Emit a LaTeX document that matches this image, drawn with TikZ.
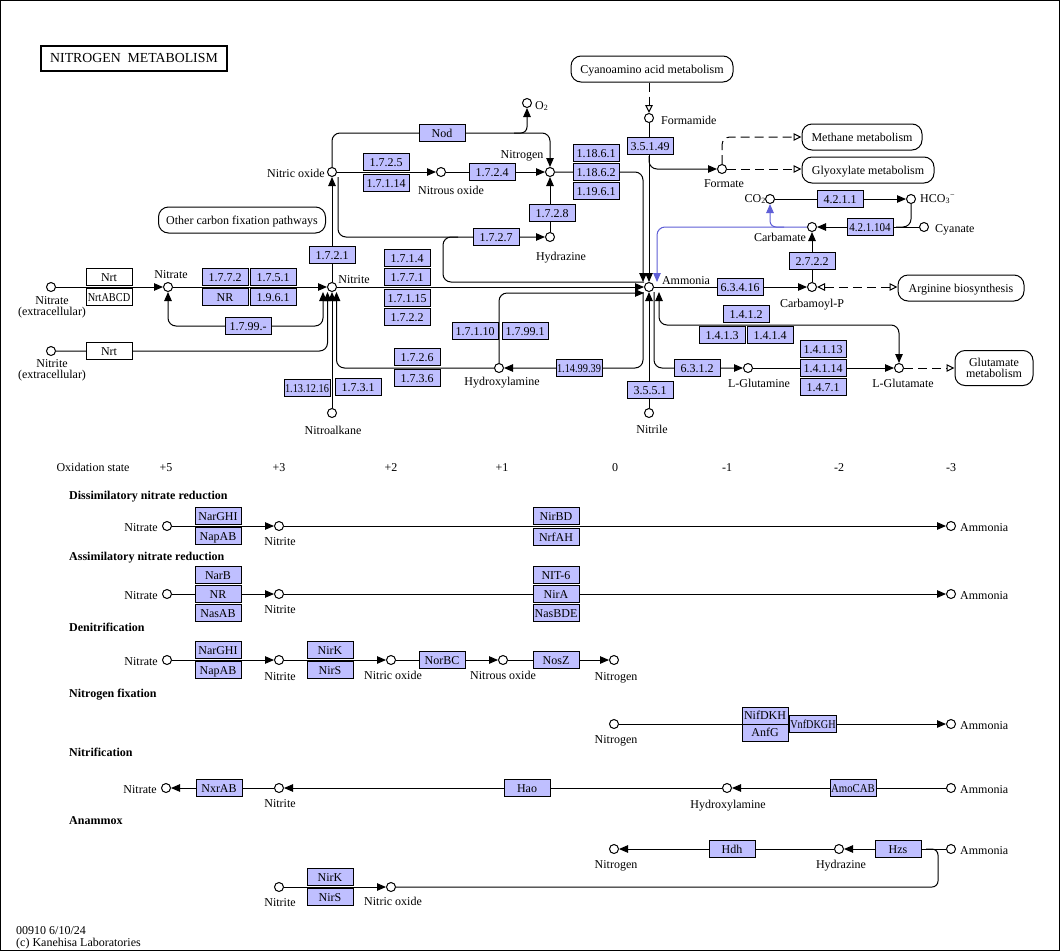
\documentclass[tikz,border=0pt]{standalone}
\usepackage{fontspec}
\setmainfont{Liberation Serif}
\usepackage{graphicx}
\usetikzlibrary{arrows.meta,backgrounds}
\definecolor{enzblue}{RGB}{191,191,255}
\definecolor{bline}{RGB}{95,95,215}
\newcommand{\kfs}{\fontsize{12}{13}\selectfont}
\newcommand{\kfsb}{\fontsize{12}{13}\selectfont\bfseries}
\newcommand{\kfl}{\fontsize{12}{11}\selectfont}
\newcommand{\sqz}[2]{\scalebox{#1}[1]{#2}}
\tikzset{
  cpd/.style={circle, draw, fill=white, minimum size=9pt, inner sep=0pt, line width=1pt},
  enz/.style={draw, fill=enzblue, minimum width=46pt, minimum height=17pt, inner sep=0pt, line width=1pt, font=\kfs, text height=8pt, text depth=0pt},
  gene/.style={enz, fill=white},
  mapbox/.style={draw, fill=white, rounded corners=10pt, minimum height=26pt, inner sep=0pt, line width=1pt, font=\kfs},
  mapboxa/.style={mapbox, text height=8pt, text depth=0pt},
  lbl/.style={inner sep=0pt, font=\kfs, text height=8pt, text depth=0pt},
  lbltwo/.style={inner sep=0pt, font=\kfl, align=center},
  head/.style={inner sep=0pt, font=\kfsb, text height=8pt, text depth=0pt, anchor=west},
  rx/.style={line width=1pt},
  arr/.style={rx, -{Triangle[length=9pt,width=7.5pt]}},
  arrb/.style={rx, {Triangle[length=9pt,width=7.5pt]}-{Triangle[length=9pt,width=7.5pt]}},
  barr/.style={rx, draw=bline, -{Triangle[length=9pt,width=7.5pt]}},
  darr/.style={rx, dash pattern=on 9pt off 5pt, -{Triangle[open,length=8pt,width=7.5pt,fill=white]}},
  darrb/.style={rx, dash pattern=on 9pt off 5pt, {Triangle[open,length=8pt,width=7.5pt,fill=white]}-{Triangle[open,length=8pt,width=7.5pt,fill=white]}},
}
\begin{document}
\begin{tikzpicture}[x=1pt,y=-1pt]
\useasboundingbox (0,0) rectangle (1060,951);

% ---------- title ----------
\node[draw, line width=2pt, minimum width=186pt, minimum height=25pt, inner sep=0pt, font=\fontsize{13.8}{15}\selectfont] (title) at (134,58) {NITROGEN\ \ METABOLISM};

% ---------- compounds (top) ----------
\node[cpd] (nitrateext) at (51,287) {};
\node[cpd] (nitriteext) at (51,351) {};
\node[cpd] (nitrate) at (168,287) {};
\node[cpd] (nitrite) at (332,287) {};
\node[cpd] (no) at (332,172) {};
\node[cpd] (o2) at (527,103) {};
\node[cpd] (n2o) at (441,172) {};
\node[cpd] (n2) at (550,172) {};
\node[cpd] (hydrazine) at (550,237) {};
\node[cpd] (formamide) at (649,118) {};
\node[cpd] (formate) at (722,169) {};
\node[cpd] (co2) at (770,199) {};
\node[cpd] (hco3) at (911,199) {};
\node[cpd] (carbamate) at (812,227) {};
\node[cpd] (cyanate) at (924,227) {};
\node[cpd] (nh3) at (649,287) {};
\node[cpd] (carbp) at (812,287) {};
\node[cpd] (nh2oh) at (499,368) {};
\node[cpd] (nitroalkane) at (332,413) {};
\node[cpd] (nitrile) at (649,413) {};
\node[cpd] (gln) at (748,368) {};
\node[cpd] (glu) at (899,368) {};

% ---------- compound labels (top) ----------
\node[lbltwo] (lnitrateext) at (52,307) {Nitrate\\(extracellular)};
\node[lbltwo] (lnitriteext) at (52,370) {Nitrite\\(extracellular)};
\node[lbl] (lnitrate) at (171,274) {Nitrate};
\node[lbl] (lnitrite) at (354,279) {Nitrite};
\node[lbl, anchor=east] (lno) at (325,173) {Nitric oxide};
\node[lbl, anchor=west] (lo2) at (535,105) {O\textsubscript{2}};
\node[lbl] (ln2o) at (451,190) {Nitrous oxide};
\node[lbl] (ln2) at (522,154) {Nitrogen};
\node[lbl] (lhydrazine) at (561,256) {Hydrazine};
\node[lbl, anchor=west] (lformamide) at (661,120) {Formamide};
\node[lbl] (lformate) at (724,183) {Formate};
\node[lbl, anchor=east] (lco2) at (766,198) {CO\textsubscript{2}};
\node[lbl, anchor=west] (lhco3) at (920,198) {HCO\textsubscript{3}\textsuperscript{−}};
\node[lbl] (lcarbamate) at (780,237) {Carbamate};
\node[lbl, anchor=west] (lcyanate) at (935,228) {Cyanate};
\node[lbl] (lnh3) at (686,280) {Ammonia};
\node[lbl] (lcarbp) at (812,303) {Carbamoyl-P};
\node[lbl] (lnh2oh) at (502,381) {Hydroxylamine};
\node[lbl] (lnitroalkane) at (333,430) {Nitroalkane};
\node[lbl] (lnitrile) at (652,429) {Nitrile};
\node[lbl] (lgln) at (759,383) {L-Glutamine};
\node[lbl] (lglu) at (903,383) {L-Glutamate};

% ---------- map boxes ----------
\node[mapboxa, minimum width=162pt] (cyano) at (652,69) {Cyanoamino acid metabolism};
\node[mapboxa, minimum width=167pt] (othercf) at (242,220) {Other carbon fixation pathways};
\node[mapboxa, minimum width=120pt] (methane) at (862,137) {Methane metabolism};
\node[mapboxa, minimum width=132pt] (glyox) at (868,170) {Glyoxylate metabolism};
\node[mapboxa, minimum width=126pt] (arginine) at (961,288) {Arginine biosynthesis};
\node[mapbox, minimum width=78pt, minimum height=35pt, align=center, font=\kfl] (glutmet) at (994,368) {Glutamate\\metabolism};

% ---------- enzymes (top) ----------
\node[gene] (nrt1) at (109,277) {Nrt};
\node[gene] (nrtabcd) at (109,297) {\sqz{0.86}{NrtABCD}};
\node[gene] (nrt2) at (109,351) {Nrt};
\node[enz] (e1772) at (225,277) {1.7.7.2};
\node[enz] (e1751) at (273,277) {1.7.5.1};
\node[enz] (enr) at (225,297) {NR};
\node[enz] (e1961) at (273,297) {1.9.6.1};
\node[enz] (e1799) at (248,326) {1.7.99.-};
\node[enz] (e131216) at (307,388) {\sqz{0.86}{1.13.12.16}};
\node[enz] (e1731) at (358,387) {1.7.3.1};
\node[enz] (e1721) at (332,255) {1.7.2.1};
\node[enz] (e1714) at (407,258) {1.7.1.4};
\node[enz] (e1771) at (407,277) {1.7.7.1};
\node[enz] (e17115) at (407,298) {1.7.1.15};
\node[enz] (e1722) at (407,317) {1.7.2.2};
\node[enz] (e17110) at (475,331) {1.7.1.10};
\node[enz] (e17991) at (525,331) {1.7.99.1};
\node[enz] (e1726) at (417,357) {1.7.2.6};
\node[enz] (e1736) at (417,378) {1.7.3.6};
\node[enz] (e1149939) at (579,368) {\sqz{0.86}{1.14.99.39}};
\node[enz] (e3551) at (650,390) {3.5.5.1};
\node[enz] (enod) at (442,133) {Nod};
\node[enz] (e1725) at (386,162) {1.7.2.5};
\node[enz] (e17114) at (386,183) {1.7.1.14};
\node[enz] (e1724) at (492,172) {1.7.2.4};
\node[enz] (e11861) at (596,153) {1.18.6.1};
\node[enz] (e11862) at (596,172) {1.18.6.2};
\node[enz] (e11961) at (596,191) {1.19.6.1};
\node[enz] (e1728) at (552,213) {1.7.2.8};
\node[enz] (e1727) at (496,237) {1.7.2.7};
\node[enz] (e35149) at (650,146) {3.5.1.49};
\node[enz] (e4211) at (840,199) {4.2.1.1};
\node[enz] (e421104) at (870,227) {\sqz{0.92}{4.2.1.104}};
\node[enz] (e2722) at (812,261) {2.7.2.2};
\node[enz] (e63416) at (740,287) {6.3.4.16};
\node[enz] (e1412) at (746,314) {1.4.1.2};
\node[enz] (e1413) at (722,335) {1.4.1.3};
\node[enz] (e1414) at (770,335) {1.4.1.4};
\node[enz] (e14113) at (823,349) {1.4.1.13};
\node[enz] (e14114) at (823,368) {1.4.1.14};
\node[enz] (e1471) at (823,387) {1.4.7.1};
\node[enz] (e6312) at (697,368) {6.3.1.2};

% ---------- oxidation states ----------
\node[lbl] (ox) at (93,467) {Oxidation state};
\node[lbl] (oxa) at (166,467) {+5};
\node[lbl] (oxb) at (279,467) {+3};
\node[lbl] (oxc) at (391,467) {+2};
\node[lbl] (oxd) at (502,467) {+1};
\node[lbl] (oxe) at (615,467) {0};
\node[lbl] (oxf) at (727,467) {-1};
\node[lbl] (oxg) at (839,467) {-2};
\node[lbl] (oxh) at (951,467) {-3};

% ---------- headings ----------
\node[head] (h1) at (69,495) {Dissimilatory nitrate reduction};
\node[head] (h2) at (69,556) {Assimilatory nitrate reduction};
\node[head] (h3) at (69,627) {Denitrification};
\node[head] (h4) at (69,693) {Nitrogen fixation};
\node[head] (h5) at (69,752) {Nitrification};
\node[head] (h6) at (69,820) {Anammox};

% ---------- row 1 ----------
\node[cpd] (r1nitrate) at (167,526) {};
\node[cpd] (r1nitrite) at (279,526) {};
\node[cpd] (r1nh3) at (951,526) {};
\node[enz] (r1narghi) at (218,516) {NarGHI};
\node[enz] (r1napab) at (218,536) {NapAB};
\node[enz] (r1nirbd) at (556,516) {NirBD};
\node[enz] (r1nrfah) at (556,537) {NrfAH};
\node[lbl, anchor=east] (lr1nitrate) at (158,527) {Nitrate};
\node[lbl] (lr1nitrite) at (280,541) {Nitrite};
\node[lbl, anchor=west] (lr1nh3) at (960,527) {Ammonia};

% ---------- row 2 ----------
\node[cpd] (r2nitrate) at (167,594) {};
\node[cpd] (r2nitrite) at (279,594) {};
\node[cpd] (r2nh3) at (951,594) {};
\node[enz] (r2narb) at (218,575) {NarB};
\node[enz] (r2nr) at (218,594) {NR};
\node[enz] (r2nasab) at (218,613) {NasAB};
\node[enz] (r2nit6) at (556,575) {NIT-6};
\node[enz] (r2nira) at (556,594) {NirA};
\node[enz] (r2nasbde) at (556,613) {NasBDE};
\node[lbl, anchor=east] (lr2nitrate) at (158,595) {Nitrate};
\node[lbl] (lr2nitrite) at (280,609) {Nitrite};
\node[lbl, anchor=west] (lr2nh3) at (960,595) {Ammonia};

% ---------- row 3 ----------
\node[cpd] (r3nitrate) at (167,660) {};
\node[cpd] (r3nitrite) at (279,660) {};
\node[cpd] (r3no) at (391,660) {};
\node[cpd] (r3n2o) at (503,660) {};
\node[cpd] (r3n2) at (614,660) {};
\node[enz] (r3narghi) at (218,650) {NarGHI};
\node[enz] (r3napab) at (218,670) {NapAB};
\node[enz] (r3nirk) at (330,650) {NirK};
\node[enz] (r3nirs) at (330,670) {NirS};
\node[enz] (r3norbc) at (442,660) {NorBC};
\node[enz] (r3nosz) at (556,660) {NosZ};
\node[lbl, anchor=east] (lr3nitrate) at (158,661) {Nitrate};
\node[lbl] (lr3nitrite) at (280,676) {Nitrite};
\node[lbl] (lr3no) at (393,675) {Nitric oxide};
\node[lbl] (lr3n2o) at (503,675) {Nitrous oxide};
\node[lbl] (lr3n2) at (616,676) {Nitrogen};

% ---------- row 4 ----------
\node[cpd] (r4n2) at (614,724) {};
\node[cpd] (r4nh3) at (951,724) {};
\node[enz] (r4nifdkh) at (765,715.5) {NifDKH};
\node[enz] (r4anfg) at (765,732.5) {AnfG};
\node[enz, minimum width=47pt] (r4vnf) at (813,724) {\sqz{0.85}{VnfDKGH}};
\node[lbl] (lr4n2) at (616,739) {Nitrogen};
\node[lbl, anchor=west] (lr4nh3) at (960,725) {Ammonia};

% ---------- row 5 ----------
\node[cpd] (r5nitrate) at (166,788) {};
\node[cpd] (r5nitrite) at (279,788) {};
\node[cpd] (r5nh2oh) at (727,788) {};
\node[cpd] (r5nh3) at (951,788) {};
\node[enz] (r5nxrab) at (219,788) {NxrAB};
\node[enz] (r5hao) at (527,788) {Hao};
\node[enz] (r5amo) at (853,788) {\sqz{0.9}{AmoCAB}};
\node[lbl, anchor=east] (lr5nitrate) at (157,789) {Nitrate};
\node[lbl] (lr5nitrite) at (280,803) {Nitrite};
\node[lbl] (lr5nh2oh) at (728,804) {Hydroxylamine};
\node[lbl, anchor=west] (lr5nh3) at (960,789) {Ammonia};

% ---------- row 6 ----------
\node[cpd] (r6n2) at (614,849) {};
\node[cpd] (r6hydrazine) at (839,849) {};
\node[cpd] (r6nh3) at (951,849) {};
\node[enz] (r6hdh) at (732,849) {Hdh};
\node[enz] (r6hzs) at (898,849) {Hzs};
\node[lbl] (lr6n2) at (616,864) {Nitrogen};
\node[lbl] (lr6hydrazine) at (841,864) {Hydrazine};
\node[lbl, anchor=west] (lr6nh3) at (960,850) {Ammonia};

% ---------- row 7 ----------
\node[cpd] (r7nitrite) at (279,887) {};
\node[cpd] (r7no) at (391,887) {};
\node[enz] (r7nirk) at (330,877) {NirK};
\node[enz] (r7nirs) at (330,897) {NirS};
\node[lbl] (lr7nitrite) at (280,902) {Nitrite};
\node[lbl] (lr7no) at (393,901) {Nitric oxide};

% ---------- footer ----------
\node[lbl, anchor=west] (foot1) at (16,930) {00910 6/10/24};
\node[lbl, anchor=west] (foot2) at (16,942) {(c) Kanehisa Laboratories};

% ---------- coordinates for free ends ----------
\coordinate (o2br) at (514,133);
\coordinate (m1727) at (458,237);
\coordinate (m1727b) at (443,282);
\coordinate (fbr) at (649,156);
\coordinate (hbr) at (896,227);
\coordinate (cbr) at (784,227);
\coordinate (hzsm) at (926,849);
\coordinate (hzsx) at (938,887);

% ---------- connectors ----------
\begin{pgfonlayer}{background}
\fill[white] (0,0) rectangle (1060,951);
\draw[arr] (nitrateext) -- (nitrate);
\draw[arr] (nitrate) -- (nitrite);
\draw[arrb, rounded corners=8pt] (nitrate.south) |- (e1799.center) -| ([xshift=-9pt]nitrite.south);
\draw[arr, rounded corners=8pt] (nitriteext) -| ([xshift=-4.5pt]nitrite.south);
\draw[arr] (nitroalkane) -- (nitrite);
\draw[arr, rounded corners=8pt] (nh2oh) -| ([xshift=4.5pt]nitrite.south);
\draw[arr] (nitrite) -- (no);
\draw[arr] (no) -- (n2o);
\draw[arr] (n2o) -- (n2);
\draw[arr] (hydrazine) -- (n2);
\draw[arr, rounded corners=8pt] (no) |- (enod.center) -| (n2);
\draw[arr, rounded corners=6pt] (o2br) -| (o2);
\draw[arr, rounded corners=8pt] ([xshift=6pt]no.south) |- (hydrazine);
\draw[rx, rounded corners=8pt] (m1727) -| (m1727b) -- ([yshift=5pt]nh3.west);
\draw[arr] (nitrite) -- (nh3);
\draw[arr, rounded corners=8pt] (nh2oh) |- ([yshift=-6pt]nh3.west);
\draw[arr, rounded corners=8pt] ([xshift=-6pt]nh3.south) |- (nh2oh);
\draw[arr] (nitrile) -- (nh3);
\draw[arr, rounded corners=8pt] (n2) -| ([xshift=-6pt]nh3.north);
\draw[arr] (formamide) -- (nh3);
\draw[arr, rounded corners=8pt] (fbr) |- (formate);
\draw[darr] (cyano.south -| formamide) -- (formamide);
\draw[darr, rounded corners=8pt] (formate) |- (methane);
\draw[darr] (formate) -- (glyox.west |- formate);
\draw[arr] (co2) -- (hco3);
\draw[arr] (cyanate) -- (carbamate);
\draw[rx, rounded corners=8pt] (hco3) |- (hbr);
\draw[barr, rounded corners=8pt] (carbamate) -| ([xshift=8pt]nh3.north);
\draw[barr, rounded corners=6pt] (cbr) -| (co2);
\draw[arr] (carbp) -- (carbamate);
\draw[arr] (nh3) -- (carbp);
\draw[darrb] (carbp) -- (arginine.west |- carbp);
\draw[arr, rounded corners=8pt] ([xshift=5pt]nh3.south) |- (gln);
\draw[arr] (gln) -- (glu);
\draw[darr] (glu) -- (glutmet);
\draw[arrb, rounded corners=8pt] ([xshift=10pt]nh3.south) -- ++(0,33) -| (glu);

\draw[arr] (r1nitrate) -- (r1nitrite);
\draw[arr] (r1nitrite) -- (r1nh3);
\draw[arr] (r2nitrate) -- (r2nitrite);
\draw[arr] (r2nitrite) -- (r2nh3);
\draw[arr] (r3nitrate) -- (r3nitrite);
\draw[arr] (r3nitrite) -- (r3no);
\draw[arr] (r3no) -- (r3n2o);
\draw[arr] (r3n2o) -- (r3n2);
\draw[arr] (r4n2) -- (r4nh3);
\draw[arr] (r5nh3) -- (r5nh2oh);
\draw[arr] (r5nh2oh) -- (r5nitrite);
\draw[arr] (r5nitrite) -- (r5nitrate);
\draw[arr] (r6nh3) -- (r6hydrazine);
\draw[arr] (r6hydrazine) -- (r6n2);
\draw[arr] (r7nitrite) -- (r7no);
\draw[rx, rounded corners=6pt] (hzsm) -| (hzsx) -- (r7no);
\end{pgfonlayer}

% ---------- frame ----------
\draw[line width=1pt] (0.5,0.5) rectangle (1059.5,950.5);
\end{tikzpicture}
\end{document}
